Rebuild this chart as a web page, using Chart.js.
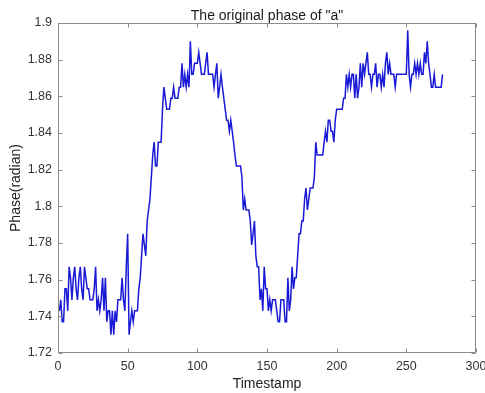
<!DOCTYPE html>
<html>
<head>
<meta charset="utf-8">
<script src="https://cdn.jsdelivr.net/npm/chart.js@4.4.0/dist/chart.umd.min.js"></script>
<style>
  body { margin: 0; background: #fff; }
</style>
</head>
<body>
<canvas id="mycanvas" width="485" height="393"></canvas>
<script>
// phase values, one per timestamp starting at 1
var phase = [
  1.743, 1.749, 1.737, 1.737, 1.755, 1.755, 1.743, 1.767, 1.761, 1.749,
  1.761, 1.767, 1.755, 1.749, 1.761, 1.767, 1.755, 1.749, 1.767, 1.761,
  1.755, 1.755, 1.749, 1.749, 1.749, 1.755, 1.767, 1.743, 1.749, 1.743,
  1.749, 1.761, 1.743, 1.761, 1.737, 1.743, 1.743, 1.730, 1.743, 1.730,
  1.743, 1.737, 1.749, 1.749, 1.749, 1.761, 1.749, 1.743, 1.767, 1.785,
  1.730, 1.737, 1.743, 1.737, 1.743, 1.743, 1.743, 1.755, 1.761, 1.773,
  1.785, 1.779, 1.773, 1.792, 1.798, 1.804, 1.816, 1.828, 1.835, 1.822,
  1.822, 1.835, 1.835, 1.835, 1.853, 1.865, 1.859, 1.853, 1.853, 1.853,
  1.859, 1.859, 1.865, 1.859, 1.859, 1.859, 1.865, 1.865, 1.878, 1.865,
  1.872, 1.865, 1.872, 1.865, 1.890, 1.872, 1.872, 1.878, 1.878, 1.878,
  1.884, 1.878, 1.872, 1.872, 1.872, 1.878, 1.884, 1.872, 1.872, 1.872,
  1.872, 1.865, 1.872, 1.878, 1.859, 1.865, 1.872, 1.865, 1.859, 1.853,
  1.847, 1.847, 1.841, 1.847, 1.841, 1.835, 1.828, 1.822, 1.822, 1.822,
  1.822, 1.816, 1.798, 1.804, 1.798, 1.798, 1.798, 1.792, 1.779, 1.785,
  1.792, 1.773, 1.767, 1.767, 1.749, 1.755, 1.743, 1.767, 1.755, 1.755,
  1.743, 1.749, 1.743, 1.749, 1.749, 1.749, 1.743, 1.737, 1.737, 1.749,
  1.749, 1.749, 1.737, 1.737, 1.761, 1.743, 1.749, 1.767, 1.755, 1.761,
  1.761, 1.773, 1.785, 1.785, 1.792, 1.792, 1.804, 1.810, 1.798, 1.804,
  1.810, 1.810, 1.810, 1.816, 1.835, 1.828, 1.828, 1.828, 1.828, 1.828,
  1.835, 1.841, 1.835, 1.847, 1.847, 1.841, 1.841, 1.835, 1.847, 1.853,
  1.853, 1.853, 1.853, 1.853, 1.859, 1.859, 1.872, 1.865, 1.872, 1.865,
  1.872, 1.872, 1.859, 1.872, 1.859, 1.865, 1.878, 1.865, 1.878, 1.872,
  1.878, 1.884, 1.872, 1.872, 1.865, 1.872, 1.872, 1.878, 1.865, 1.872,
  1.872, 1.865, 1.872, 1.865, 1.878, 1.884, 1.872, 1.878, 1.872, 1.872,
  1.872, 1.865, 1.872, 1.872, 1.872, 1.872, 1.872, 1.872, 1.872, 1.872,
  1.896, 1.872, 1.865, 1.872, 1.872, 1.878, 1.872, 1.878, 1.872, 1.878,
  1.872, 1.872, 1.884, 1.878, 1.890, 1.878, 1.872, 1.865, 1.865, 1.872,
  1.865, 1.865, 1.865, 1.865, 1.865, 1.872
];

var xTicks = [0, 50, 100, 150, 200, 250, 300];
var yTicks = [1.72, 1.74, 1.76, 1.78, 1.8, 1.82, 1.84, 1.86, 1.88, 1.9];
var yTickLabels = ['1.72', '1.74', '1.76', '1.78', '1.8', '1.82', '1.84', '1.86', '1.88', '1.9'];

var points = [];
for (var i in phase) {
  points.push({ x: Number(i) + 1, y: phase[i] });
}

var font = 'Liberation Sans, Arial, sans-serif';

// matlab style box with inward ticks
var axisBox = {
  id: 'axisBox',
  afterDatasetsDraw: function(chart) {
    var ctx = chart.ctx;
    var x = chart.scales.x, y = chart.scales.y;
    var l = Math.round(x.left) + 0.5, r = Math.round(x.right) - 0.5;
    var t = Math.round(y.top) + 0.5, b = Math.round(y.bottom) - 0.5;
    ctx.save();
    ctx.strokeStyle = '#8c8c8c';
    ctx.lineWidth = 1;
    ctx.strokeRect(l, t, r - l, b - t);
    ctx.beginPath();
    x.ticks.forEach(function(tk) {
      var px = Math.round(x.getPixelForValue(tk.value)) + 0.5;
      ctx.moveTo(px, b); ctx.lineTo(px, b - 4);
      ctx.moveTo(px, t); ctx.lineTo(px, t + 4);
    });
    y.ticks.forEach(function(tk) {
      var py = Math.round(y.getPixelForValue(tk.value)) + 0.5;
      ctx.moveTo(l, py); ctx.lineTo(l + 4, py);
      ctx.moveTo(r, py); ctx.lineTo(r - 4, py);
    });
    ctx.stroke();
    ctx.restore();
  }
};

var ctx = document.getElementById('mycanvas');
var lineGraph = new Chart(ctx, {
  type: 'line',
  data: {
    datasets: [{
      data: points,
      borderColor: '#1a1ad6',
      borderWidth: 1.5,
      pointRadius: 0,
      tension: 0,
      fill: false
    }]
  },
  options: {
    responsive: false,
    animation: false,
    layout: { padding: { left: 0, right: 9, top: 0, bottom: 0 } },
    plugins: {
      legend: { display: false },
      tooltip: { enabled: false },
      title: {
        display: true,
        text: 'The original phase of "a"',
        fullSize: false,
        color: '#1a1a1a',
        font: { family: font, size: 14, weight: 'normal', lineHeight: 1 },
        padding: { top: 9, bottom: 0 }
      }
    },
    scales: {
      x: {
        type: 'linear',
        min: 0,
        max: 300,
        afterBuildTicks: function(axis) {
          axis.ticks = xTicks.map(function(v) { return { value: v }; });
        },
        afterFit: function(s) {
          s.height = 40;
          s.paddingLeft = 0;
          s.paddingRight = 0;
        },
        grid: { display: false, drawTicks: false },
        border: { display: false },
        ticks: {
          color: '#333',
          font: { family: font, size: 12.5 },
          padding: 6,
          maxRotation: 0,
          autoSkip: false
        },
        title: {
          display: true,
          text: 'Timestamp',
          color: '#222',
          font: { family: font, size: 14 },
          padding: { top: 0, bottom: 0 }
        }
      },
      y: {
        min: 1.72,
        max: 1.9,
        afterBuildTicks: function(axis) {
          axis.ticks = yTicks.map(function(v) { return { value: v }; });
        },
        afterFit: function(s) {
          s.width = 58;
          s.paddingTop = 0;
          s.paddingBottom = 0;
        },
        grid: { display: false, drawTicks: false },
        border: { display: false },
        ticks: {
          color: '#333',
          font: { family: font, size: 12.5 },
          padding: 6,
          autoSkip: false,
          callback: function(v, i) { return yTickLabels[i]; }
        },
        title: {
          display: true,
          text: 'Phase(radian)',
          color: '#222',
          font: { family: font, size: 14 },
          padding: { top: 8, bottom: 0 }
        }
      }
    }
  },
  plugins: [axisBox]
});
</script>
</body>
</html>
